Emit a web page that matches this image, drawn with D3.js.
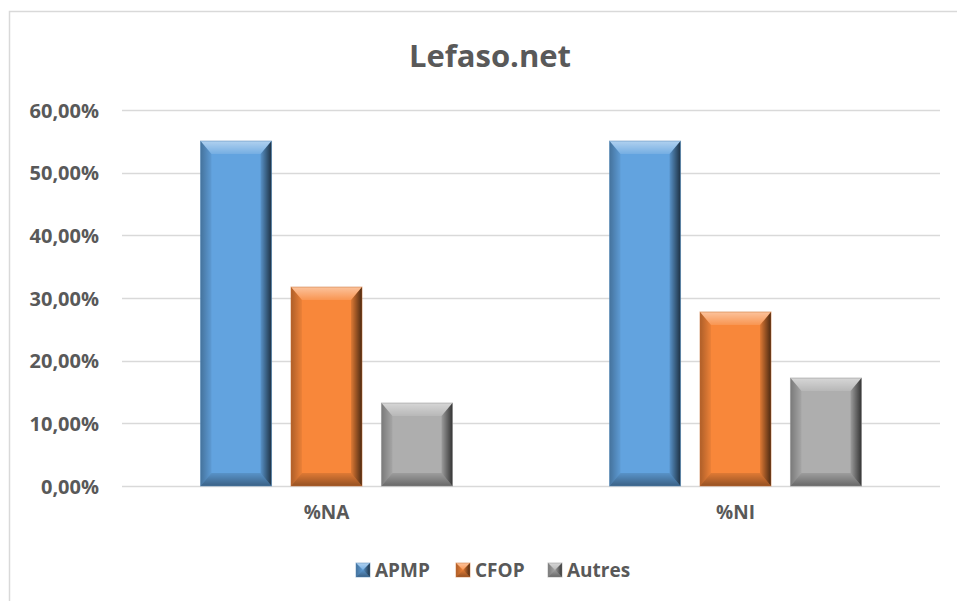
<!DOCTYPE html>
<html>
<head>
<meta charset="utf-8">
<script src="https://cdn.jsdelivr.net/npm/d3@7"></script>
<style>
  body { margin: 0; background: #fff; }
  text { font-family: "Open Sans", "Noto Sans", sans-serif; font-weight: 700; fill: #595959; }
</style>
</head>
<body>
<svg width="957" height="601"></svg>
<script>
// data
var categories = ["%NA", "%NI"];
var series = ["APMP", "CFOP", "Autres"];
var apmp = [0.5505, 0.5505];
var cfop = [0.3175, 0.2777];
var autres = [0.1324, 0.1723];
var yTicks = [0, 0.1, 0.2, 0.3, 0.4, 0.5, 0.6];
var values = [apmp, cfop, autres];
var colors = ["#62a3df", "#f8873a", "#aeaeae"];

var svg = d3.select("svg");

// chart border (runs off the right and bottom edge)
svg.append("rect")
    .attr("x", 9.5).attr("y", 11.5)
    .attr("width", 980).attr("height", 620)
    .attr("fill", "none")
    .attr("stroke", "#d9d9d9")
    .attr("stroke-width", 1.5);

var fr = d3.formatLocale({decimal: ",", thousands: " ", grouping: [3], currency: ["", "€"]});
var pct = fr.format(".2%");

var y = d3.scaleLinear().domain([0, 0.6]).range([486, 110]);
var x = d3.scaleBand().domain(categories).range([122, 940]);
var xs = d3.scaleBand().domain(series)
    .range([78.5, 330.5])
    .paddingInner(0.215);

// gradients used for the bevel overlays
var defs = svg.append("defs");
function grad(id, x2, y2, stops) {
  var g = defs.append("linearGradient").attr("id", id)
      .attr("x1", 0).attr("y1", 0).attr("x2", x2).attr("y2", y2);
  stops.forEach(function(s) {
    g.append("stop").attr("offset", s[0]).attr("stop-color", s[1]).attr("stop-opacity", s[2]);
  });
}
grad("topG", 0, 1, [[0, "#fff", 0.5], [1, "#fff", 0.12]]);
grad("leftG", 1, 0, [[0, "#000", 0.3], [1, "#000", 0.05]]);
grad("rightG", 1, 0, [[0, "#000", 0.1], [1, "#000", 0.7]]);
grad("bottomG", 0, 1, [[0, "#000", 0.1], [1, "#000", 0.4]]);

// grid lines
svg.append("g")
  .selectAll("line")
  .data(yTicks)
  .enter().append("line")
    .attr("x1", 122).attr("x2", 940)
    .attr("y1", function(d) { return Math.round(y(d)) + 0.5; })
    .attr("y2", function(d) { return Math.round(y(d)) + 0.5; })
    .attr("stroke", "#d9d9d9")
    .attr("stroke-width", 1.3);

// y labels
svg.append("g")
  .selectAll("text")
  .data(yTicks)
  .enter().append("text")
    .attr("x", 99)
    .attr("y", function(d) { return y(d) + 7.5; })
    .attr("text-anchor", "end")
    .style("font-size", "20px")
    .text(function(d) { return pct(d); });

// a bar with bevelled edges
function bevelBar(g, bx, by, w, h, color, b, bs) {
  g.append("rect").attr("x", bx).attr("y", by).attr("width", w).attr("height", h)
      .attr("fill", color);
  var pts = function(a) { return a.map(function(p) { return p.join(","); }).join(" "); };
  g.append("polygon").attr("fill", "url(#topG)")
      .attr("points", pts([[bx, by], [bx + w, by], [bx + w - bs, by + b], [bx + bs, by + b]]));
  g.append("polygon").attr("fill", "url(#leftG)")
      .attr("points", pts([[bx, by], [bx + bs, by + b], [bx + bs, by + h - b], [bx, by + h]]));
  g.append("polygon").attr("fill", "url(#rightG)")
      .attr("points", pts([[bx + w, by], [bx + w, by + h], [bx + w - bs, by + h - b], [bx + w - bs, by + b]]));
  g.append("polygon").attr("fill", "url(#bottomG)")
      .attr("points", pts([[bx, by + h], [bx + bs, by + h - b], [bx + w - bs, by + h - b], [bx + w, by + h]]));
  g.append("rect").attr("x", bx).attr("y", by).attr("width", w).attr("height", h)
      .attr("fill", "none")
      .attr("stroke", d3.color(color).darker(0.6))
      .attr("stroke-opacity", 0.5)
      .attr("stroke-width", 1);
}

var bars = svg.append("g");
series.forEach(function(s, si) {
  categories.forEach(function(c, ci) {
    var v = values[si][ci];
    var bx = x(c) + xs(s);
    bevelBar(bars, bx, y(v), xs.bandwidth(), y(0) - y(v), colors[si], 13, 11);
  });
});

// category labels
svg.append("g")
  .selectAll("text")
  .data(categories)
  .enter().append("text")
    .attr("x", function(d) { return x(d) + x.bandwidth() / 2; })
    .attr("y", 519)
    .attr("text-anchor", "middle")
    .style("font-size", "19px")
    .text(function(d) { return d; });

// title
svg.append("text")
    .attr("x", 490)
    .attr("y", 67)
    .attr("text-anchor", "middle")
    .style("font-size", "31px")
    .text("Lefaso.net");

// legend
var legendX = [356, 456, 548];
var legend = svg.append("g").selectAll("g")
  .data(series)
  .enter().append("g")
    .attr("transform", function(d, i) { return "translate(" + legendX[i] + ",563)"; });
legend.each(function(d, i) {
  bevelBar(d3.select(this), 0, 0, 14, 14, colors[i], 7, 7);
});
legend.append("text")
    .attr("x", 19)
    .attr("y", 14)
    .style("font-size", "19px")
    .text(function(d) { return d; });
</script>
</body>
</html>
